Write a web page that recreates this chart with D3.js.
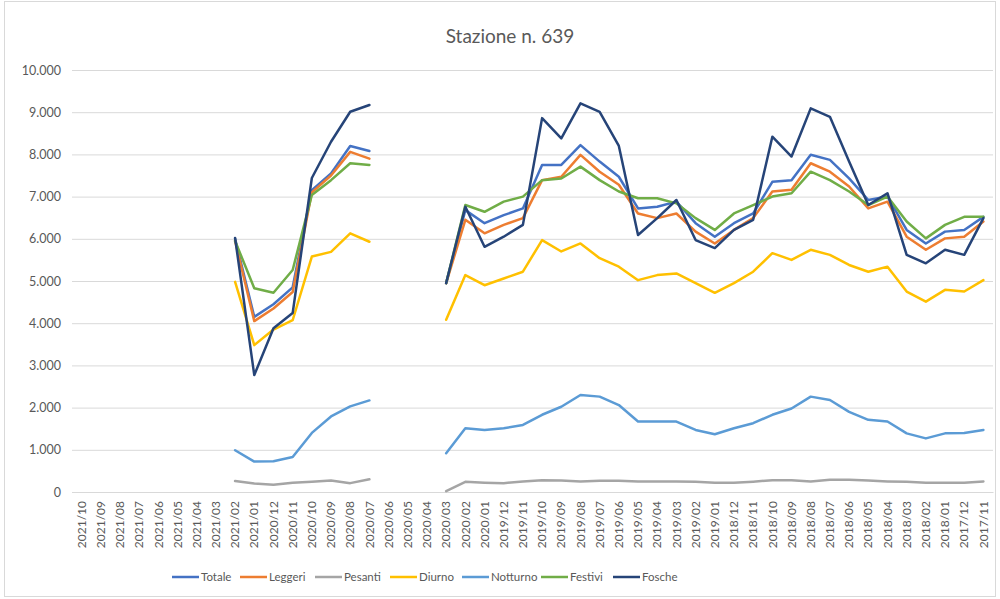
<!DOCTYPE html>
<html>
<head>
<meta charset="utf-8">
<script src="https://cdn.jsdelivr.net/npm/d3@7"></script>
<style>
  body { margin: 0; background: #fff; }
  text { font-family: Lato, "Open Sans", sans-serif; fill: #595959; }
</style>
</head>
<body>
<div id="chart"></div>
<script>
var svgWidth = 1000;
var svgHeight = 599;

var margin = { top: 70, right: 7, bottom: 107, left: 72 };
var width = svgWidth - margin.left - margin.right;
var height = svgHeight - margin.top - margin.bottom;

// months, newest first (as in the reference axis)
var months = [
  "2021/10","2021/09","2021/08","2021/07","2021/06","2021/05","2021/04","2021/03",
  "2021/02","2021/01","2020/12","2020/11","2020/10","2020/09","2020/08","2020/07",
  "2020/06","2020/05","2020/04","2020/03","2020/02","2020/01","2019/12","2019/11",
  "2019/10","2019/09","2019/08","2019/07","2019/06","2019/05","2019/04","2019/03",
  "2019/02","2019/01","2018/12","2018/11","2018/10","2018/09","2018/08","2018/07",
  "2018/06","2018/05","2018/04","2018/03","2018/02","2018/01","2017/12","2017/11"
];

var yTicks = [0, 1000, 2000, 3000, 4000, 5000, 6000, 7000, 8000, 9000, 10000];

var n = null;
var totale   = [n,n,n,n,n,n,n,n, 6000,4150,4450,4850,7150,7550,8200,8080, n,n,n, 4950,6680,6370,6560,6720,7750,7750,8220,7830,7470,6720,6760,6880,6370,6050,6370,6600,7350,7390,7990,7870,7430,6920,7000,6210,5890,6170,6210,6520];
var leggeri  = [n,n,n,n,n,n,n,n, 5950,4050,4350,4740,7100,7500,8060,7900, n,n,n, 4950,6450,6130,6330,6490,7390,7470,7990,7590,7280,6600,6490,6600,6170,5890,6210,6490,7120,7160,7790,7590,7240,6720,6880,6050,5740,6010,6050,6410];
var pesanti  = [n,n,n,n,n,n,n,n, 260,200,170,220,240,270,210,300, n,n,n, 20,240,220,210,250,280,270,250,265,265,250,250,250,240,220,220,245,280,280,250,290,290,270,250,240,220,220,220,250];
var diurno   = [n,n,n,n,n,n,n,n, 4980,3480,3850,4070,5580,5690,6130,5930, n,n,n, 4080,5140,4900,5060,5220,5970,5700,5890,5540,5340,5020,5140,5180,4950,4720,4950,5220,5660,5500,5740,5620,5380,5220,5340,4750,4510,4790,4750,5020];
var notturno = [n,n,n,n,n,n,n,n, 990,720,730,830,1400,1790,2030,2170, n,n,n, 920,1510,1470,1510,1590,1830,2020,2300,2260,2060,1670,1670,1670,1470,1370,1510,1630,1830,1980,2260,2180,1900,1710,1670,1390,1270,1390,1400,1470];
var festivi  = [n,n,n,n,n,n,n,n, 5950,4830,4720,5260,7040,7390,7790,7750, n,n,n, 4950,6800,6640,6880,7000,7390,7430,7710,7390,7120,6960,6960,6840,6490,6210,6600,6800,7000,7080,7590,7390,7120,6800,7000,6410,6010,6330,6520,6520];
var fosche   = [n,n,n,n,n,n,n,n, 6020,2770,3880,4240,7440,8300,9010,9170, n,n,n, 4950,6760,5810,6050,6330,8860,8380,9210,9010,8200,6090,6490,6920,5970,5780,6210,6450,8420,7950,9090,8890,7830,6800,7080,5620,5420,5740,5620,6490];

var seriesNames = ["Totale", "Leggeri", "Pesanti", "Diurno", "Notturno", "Festivi", "Fosche"];
var seriesValues = [totale, leggeri, pesanti, diurno, notturno, festivi, fosche];
var seriesColors = ["#4472C4", "#ED7D31", "#A5A5A5", "#FFC000", "#5B9BD5", "#70AD47", "#264478"];

var svg = d3.select("#chart")
    .append("svg")
    .attr("width", svgWidth)
    .attr("height", svgHeight);

// chart area border
svg.append("rect")
    .attr("x", 4.5).attr("y", 1.5)
    .attr("width", 991).attr("height", 595)
    .attr("fill", "none")
    .attr("stroke", "#d9d9d9");

svg.append("text")
    .attr("x", 510)
    .attr("y", 43)
    .attr("text-anchor", "middle")
    .attr("font-size", 19)
    .text("Stazione n. 639");

var chartGroup = svg.append("g")
    .attr("transform", `translate(${margin.left}, ${margin.top})`);

var xScale = d3.scaleBand()
    .domain(months)
    .range([0, width])
    .padding(0);

var yScale = d3.scaleLinear()
    .domain([0, 10000])
    .range([height, 0]);

var itFormat = d3.formatLocale({ decimal: ",", thousands: ".", grouping: [3], currency: ["€", ""] }).format(",");

// gridlines + y labels
var leftAxis = d3.axisLeft(yScale)
    .tickValues(yTicks)
    .tickSize(-width)
    .tickPadding(11)
    .tickFormat(itFormat);

var yAxisG = chartGroup.append("g").call(leftAxis);
yAxisG.select(".domain").remove();
yAxisG.selectAll(".tick line").attr("stroke", "#d9d9d9");
yAxisG.selectAll(".tick text")
    .attr("font-size", 12.5)
    .attr("fill", "#595959")
    .style("font-family", "Lato, sans-serif");

// x axis
var bottomAxis = d3.axisBottom(xScale).tickSize(0).tickPadding(0);
var xAxisG = chartGroup.append("g")
    .attr("transform", `translate(0, ${height})`)
    .call(bottomAxis);
xAxisG.select(".domain").attr("stroke", "#d9d9d9");
xAxisG.selectAll(".tick text")
    .attr("transform", "rotate(-90)")
    .attr("text-anchor", "end")
    .attr("x", -9)
    .attr("y", 0)
    .attr("dy", "0.35em")
    .attr("font-size", 12)
    .attr("fill", "#595959")
    .style("font-family", "Lato, sans-serif");

// lines
var line = d3.line()
    .defined(d => d.v !== null)
    .x(d => xScale(d.m) + xScale.bandwidth() / 2)
    .y(d => yScale(d.v));

seriesNames.forEach(function (name, i) {
    var pts = months.map((m, j) => ({ m: m, v: seriesValues[i][j] }));
    chartGroup.append("path")
        .datum(pts)
        .attr("fill", "none")
        .attr("stroke", seriesColors[i])
        .attr("stroke-width", 2.5)
        .attr("stroke-linejoin", "round")
        .attr("stroke-linecap", "round")
        .attr("d", line);
});

// legend
var legendX = [172, 240, 315, 390, 462, 541, 613];
var legend = svg.append("g").attr("transform", "translate(0, 577)");
seriesNames.forEach(function (name, i) {
    legend.append("line")
        .attr("x1", legendX[i]).attr("x2", legendX[i] + 27)
        .attr("y1", 0).attr("y2", 0)
        .attr("stroke", seriesColors[i])
        .attr("stroke-width", 2.5);
    legend.append("text")
        .attr("x", legendX[i] + 29)
        .attr("y", 0)
        .attr("dy", "0.35em")
        .attr("font-size", 11.5)
        .text(name);
});
</script>
</body>
</html>
